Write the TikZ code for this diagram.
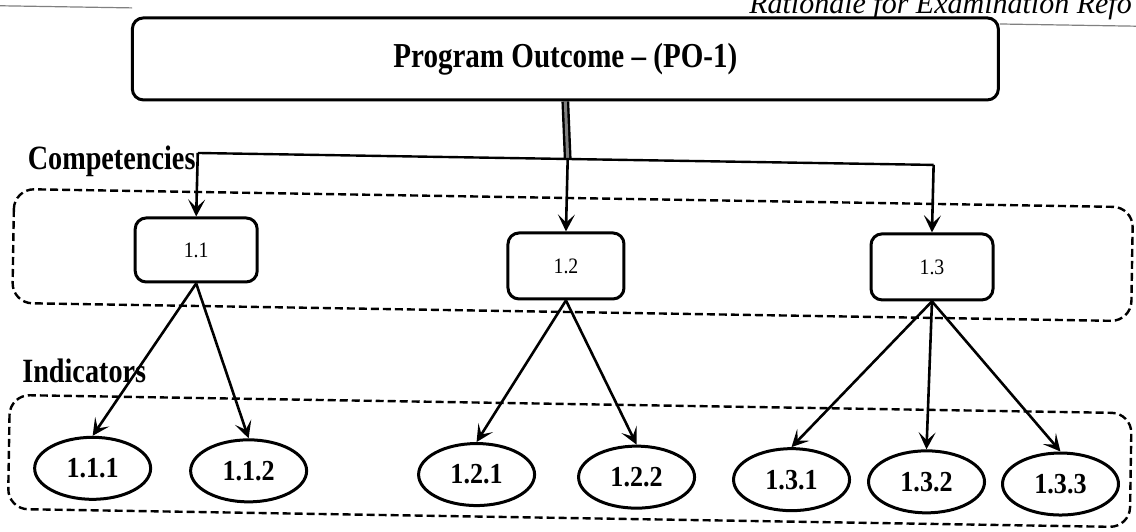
\documentclass[tikz,border=0pt]{standalone}
\usepackage{fontspec}
\setmainfont{Liberation Serif}
\newfontfamily\lblfont[FakeStretch=0.83]{Liberation Serif}
\newfontfamily\numfont[FakeStretch=0.9]{Liberation Serif}
\usetikzlibrary{shapes.geometric,arrows.meta}
\tikzset{
  pobox/.style={draw, line width=3pt, rounded corners=11pt, fill=white,
    minimum width=866pt, minimum height=82pt, inner sep=0pt,
    font=\lblfont\bfseries\fontsize{35}{37}\selectfont},
  compbox/.style={draw, line width=3pt, rounded corners=11pt, inner sep=0pt,
    font=\numfont\fontsize{22}{23}\selectfont},
  indell/.style={draw, ellipse, line width=3pt, minimum width=116pt,
    minimum height=62pt, inner sep=0pt,
    font=\numfont\bfseries\fontsize{29}{30}\selectfont},
  zonebox/.style={draw, line width=2.4pt, dash pattern=on 8pt off 4pt,
    rounded corners=20pt},
  arr/.style={-{Stealth[length=17pt,width=17pt,inset=8pt]}, line width=2.6pt},
  trunk/.style={line width=2.4pt, double=gray, double distance=3pt},
  lbl/.style={font=\lblfont\bfseries\fontsize{34}{36}\selectfont, inner sep=0pt},
  hdr/.style={font=\itshape\fontsize{30}{32}\selectfont, inner sep=0pt, anchor=base west},
  rule/.style={line width=1.2pt, gray}
}
\begin{document}
\begin{tikzpicture}[x=1pt,y=-1pt]
\useasboundingbox (0,0) rectangle (1136,531);
\begin{scope}[rotate around={-0.93:(568,265)}]
  % running header
  \node[hdr] (head) at (745,11) {Rationale for Examination Refo};
  \coordinate (rl1) at (-20,15);
  \coordinate (rl2) at (128,15);
  \coordinate (rr1) at (996,17);
  \coordinate (rr2) at (1160,17);
  \draw[rule] (rl1) -- (rl2);
  \draw[rule] (rr1) -- (rr2);

  % zones
  \coordinate (zc1) at (13,198);
  \coordinate (zc2) at (1132,312);
  \coordinate (zi1) at (12,404);
  \coordinate (zi2) at (1134,518);
  \draw[zonebox] (zc1) rectangle (zc2);
  \draw[zonebox] (zi1) rectangle (zi2);

  % top box
  \node[pobox] (po) at (562,59) {Program Outcome – (PO-1)};

  % labels
  \node[lbl] (complbl) at (110,169) {Competencies};
  \node[lbl] (indlbl) at (86,379) {Indicators};

  % competencies
  \node[compbox, minimum width=122pt, minimum height=64pt] (c11) at (196,256) {1.1};
  \node[compbox, minimum width=116pt, minimum height=66pt] (c12) at (566,266) {1.2};
  \node[compbox, minimum width=122pt, minimum height=66pt] (c13) at (932,261) {1.3};

  % indicators
  \node[indell] (e111) at (96,476) {1.1.1};
  \node[indell] (e112) at (252,476) {1.1.2};
  \node[indell] (e121) at (480,476) {1.2.1};
  \node[indell] (e122) at (640,476) {1.2.2};
  \node[indell] (e131) at (795,476) {1.3.1};
  \node[indell] (e132) at (930,476) {1.3.2};
  \node[indell] (e133) at (1064,476) {1.3.3};

  % connectors from PO
  \coordinate (j) at (566,159);
  \coordinate (jl) at (196,159);
  \coordinate (jr) at (932,159);
  \draw[trunk] (po.south) -- (j);
  \draw[line width=2.4pt] (jl) -- (jr);
  \draw[arr] (jl) -- (c11.north);
  \draw[arr] (j) -- (c12.north);
  \draw[arr] (jr) -- (c13.north);

  % connectors to indicators
  \draw[arr] (c11.south) -- (e111.north);
  \draw[arr] (c11.south) -- (e112.north);
  \draw[arr] (c12.south) -- (e121.north);
  \draw[arr] (c12.south) -- (e122.north);
  \draw[arr] (c13.south) -- (e131.north);
  \draw[arr] (c13.south) -- (e132.north);
  \draw[arr] (c13.south) -- (e133.north);
\end{scope}
\end{tikzpicture}
\end{document}
